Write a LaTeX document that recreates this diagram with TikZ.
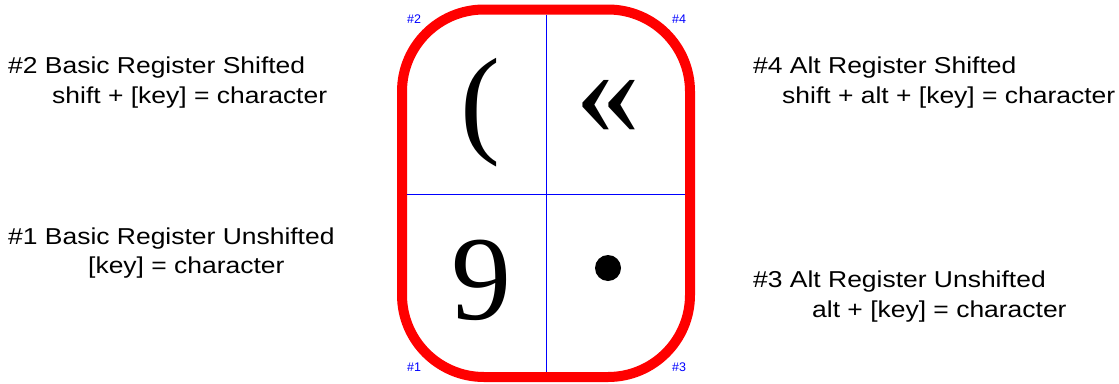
\documentclass[tikz,border=0pt]{standalone}
\usepackage{fontspec}
\usepackage{graphicx}
\setmainfont{Liberation Sans}
\newfontfamily\glyphfont{Liberation Serif}
\newcommand{\widetxt}[1]{\scalebox{1.15}[1]{#1}}
\begin{document}
\begin{tikzpicture}[x=1pt,y=-1pt,
  lbl/.style={anchor=base west,inner sep=0pt,font=\fontsize{23}{26}\selectfont},
  corner/.style={anchor=base west,inner sep=0pt,text=blue,font=\fontsize{12.5}{14}\selectfont},
  glyph/.style={inner sep=0pt,font=\glyphfont\fontsize{120}{130}\selectfont},
  keyframe/.style={draw=red,line width=10pt,rounded corners=82pt},
  divider/.style={draw=blue,line width=1pt}]
\useasboundingbox (0,0) rectangle (1119,383);
% key outline
\path[keyframe] (402,9.5) rectangle (690,377);
% dividers
\coordinate (vt) at (546.5,14.5);
\coordinate (vb) at (546.5,372);
\coordinate (hl) at (407,194);
\coordinate (hr) at (685,194);
\draw[divider] (vt) -- (vb);
\draw[divider] (hl) -- (hr);
% corner labels
\node[corner] (c2) at (407,23) {\#2};
\node[corner] (c4) at (672,23) {\#4};
\node[corner] (c1) at (407,371) {\#1};
\node[corner] (c3) at (672,371) {\#3};
% glyphs
\node[glyph] (g2) at (480,113) {(};
\node[glyph,font=\glyphfont\fontsize{130}{140}\selectfont] (g4) at (608,107) {«};
\node[glyph] (g1) at (481,280) {9};
\fill (608,268) circle (13pt);
% descriptions
\node[lbl] (d2a) at (8,73) {\widetxt{\#2 Basic Register Shifted}};
\node[lbl] (d2b) at (52,103) {\widetxt{shift + [key] = character}};
\node[lbl] (d1a) at (8,244) {\widetxt{\#1 Basic Register Unshifted}};
\node[lbl] (d1b) at (88,273) {\widetxt{[key] = character}};
\node[lbl] (d4a) at (753,73) {\widetxt{\#4 Alt Register Shifted}};
\node[lbl] (d4b) at (782,103) {\widetxt{shift + alt + [key] = character}};
\node[lbl] (d3a) at (753,287) {\widetxt{\#3 Alt Register Unshifted}};
\node[lbl] (d3b) at (812,317) {\widetxt{alt + [key] = character}};
\end{tikzpicture}
\end{document}
